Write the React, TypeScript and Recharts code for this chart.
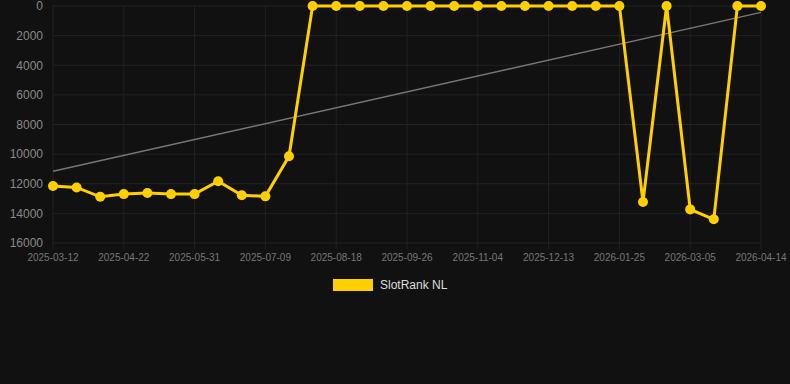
import { CartesianGrid, Line, LineChart, XAxis, YAxis } from "recharts";

const dates = [
  "2025-03-12", "2025-03-25", "2025-04-08", "2025-04-22", "2025-05-05", "2025-05-18",
  "2025-05-31", "2025-06-13", "2025-06-26", "2025-07-09", "2025-07-22", "2025-08-05",
  "2025-08-18", "2025-08-31", "2025-09-13", "2025-09-26", "2025-10-09", "2025-10-22",
  "2025-11-04", "2025-11-17", "2025-11-30", "2025-12-13", "2025-12-27", "2026-01-11",
  "2026-01-25", "2026-02-07", "2026-02-20", "2026-03-05", "2026-03-18", "2026-03-31",
  "2026-04-14"
];

const slotRankNL = [
  12150, 12250, 12880, 12700, 12630, 12700, 12700, 11830, 12780, 12850, 10140, 1,
  1, 1, 1, 1, 1, 1, 1, 1, 1, 1, 1, 1,
  1, 13230, 1, 13730, 14400, 1, 1
];

// linear trend, only its two ends are given
const trendStart = 11160;
const trendEnd = 430;

const tickDates = dates.filter((_, i) => i % 3 === 0);
const yTicks = [0, 2000, 4000, 6000, 8000, 10000, 12000, 14000, 16000];

const data = dates.map((date, i) => ({
  date,
  rank: slotRankNL[i],
  trend: i === 0 ? trendStart : i === dates.length - 1 ? trendEnd : null
}));

export default function App() {
  return (
    <div
      style={{
        position: "absolute",
        left: 0,
        top: 0,
        width: 790,
        height: 384,
        background: "#111111",
        fontFamily: "'Liberation Sans', Arial, sans-serif"
      }}
    >
      <LineChart
        width={790}
        height={273}
        data={data}
        margin={{ top: 6, right: 29, left: 0, bottom: 0 }}
      >
        <CartesianGrid stroke="#222222" strokeWidth={1} />
        <XAxis
          dataKey="date"
          ticks={tickDates}
          interval={0}
          height={30}
          axisLine={false}
          tickLine={{ stroke: "#222222" }}
          tickSize={6}
          tickMargin={5}
          tick={{ fill: "#777777", fontSize: 10 }}
        />
        <YAxis
          reversed
          domain={[0, 16000]}
          ticks={yTicks}
          interval={0}
          width={53}
          axisLine={false}
          tickLine={false}
          tickMargin={4}
          tick={{ fill: "#8a8a8a", fontSize: 12 }}
        />
        <Line
          dataKey="trend"
          stroke="#777777"
          strokeWidth={1.5}
          dot={false}
          connectNulls
          isAnimationActive={false}
        />
        <Line
          dataKey="rank"
          stroke="#ffd000"
          strokeWidth={3}
          dot={{ r: 5, fill: "#ffd000", stroke: "none" }}
          activeDot={false}
          isAnimationActive={false}
        />
      </LineChart>
      <div
        style={{
          position: "absolute",
          left: 333,
          top: 278,
          display: "flex",
          alignItems: "center",
          gap: 7
        }}
      >
        <div style={{ width: 40, height: 12, background: "#ffd000" }} />
        <span style={{ color: "#dddddd", fontSize: 12 }}>SlotRank NL</span>
      </div>
    </div>
  );
}
